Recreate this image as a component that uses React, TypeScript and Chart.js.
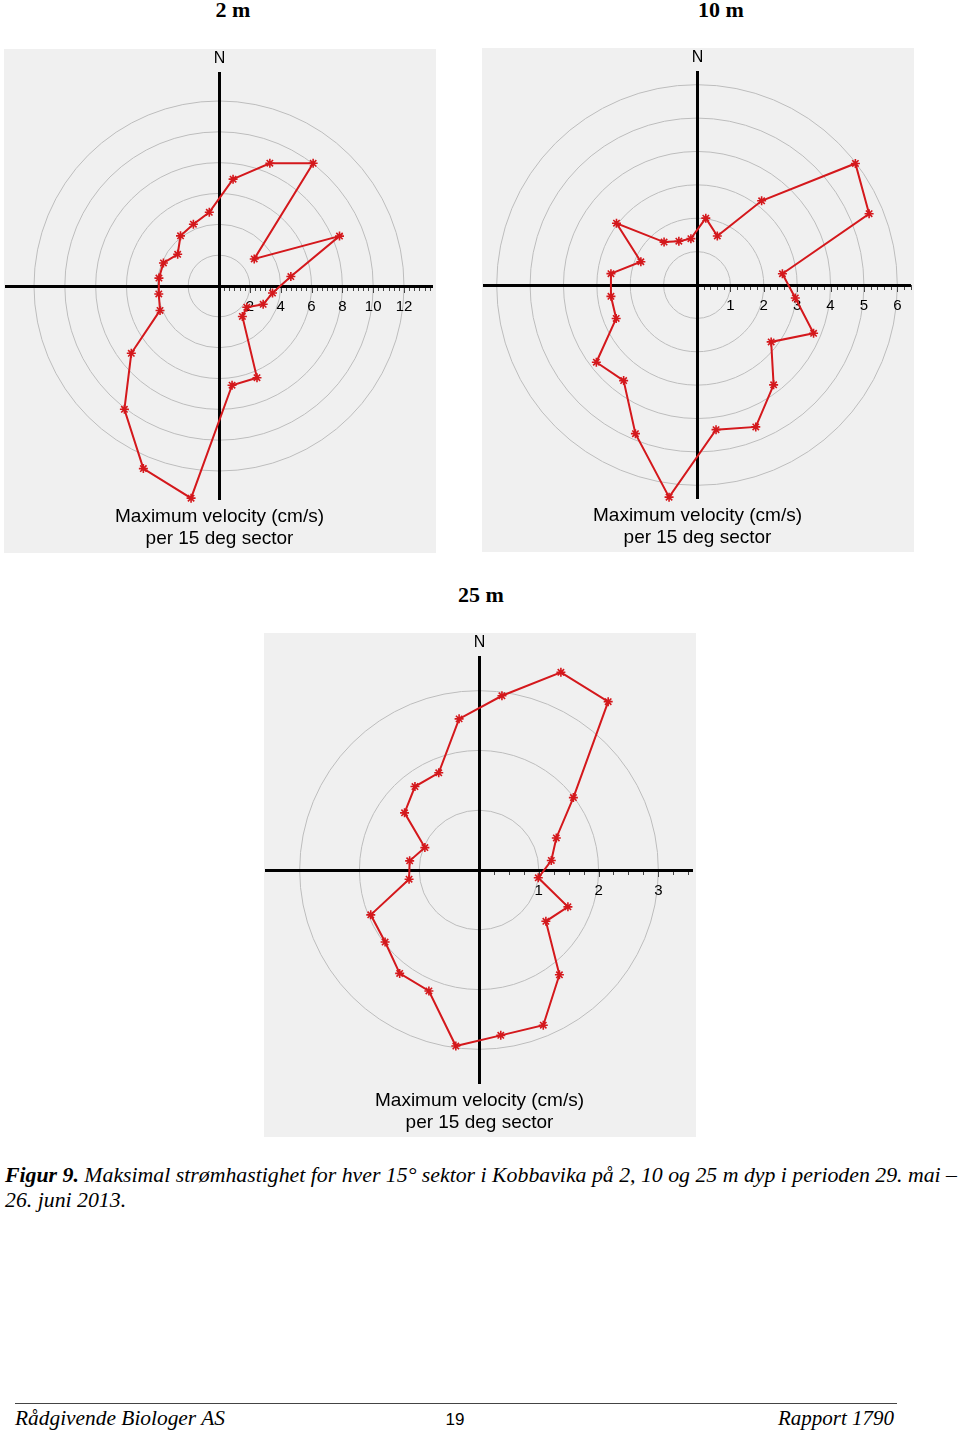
import React, { useEffect, useRef } from 'react';
import { Chart, registerables } from 'chart.js';

Chart.register(...registerables);

// 24 sectors of 15°, centred at 7.5°, 22.5°, ... clockwise from north
const sectorLabels = [
  '7.5', '22.5', '37.5', '52.5', '67.5', '82.5', '97.5', '112.5', '127.5', '142.5', '157.5', '172.5',
  '187.5', '202.5', '217.5', '232.5', '247.5', '262.5', '277.5', '292.5', '307.5', '322.5', '337.5', '352.5',
];

// Maximum velocity (cm/s) per sector
const values2m = [6.99, 8.62, 10.03, 2.88, 8.46, 4.7, 3.5, 3.1, 2.27, 2.49, 6.44, 6.49,
  13.88, 12.82, 10.08, 7.17, 4.14, 3.94, 3.93, 3.9, 3.38, 4.1, 4.34, 4.82];
const values10m = [2.02, 1.59, 3.18, 5.98, 5.58, 2.58, 2.97, 3.78, 2.8, 3.77, 4.6, 4.37,
  6.41, 4.82, 3.61, 3.8, 2.62, 2.6, 2.6, 1.82, 3.04, 1.62, 1.42, 1.4];
const values25m = [2.94, 3.58, 3.55, 1.99, 1.4, 1.22, 1.0, 1.61, 1.41, 2.21, 2.81, 2.79,
  2.97, 2.19, 2.18, 1.98, 1.96, 1.18, 1.17, 0.98, 1.57, 1.76, 1.76, 2.55];

// Axis tick labels
const ticks2m = [2, 4, 6, 8, 10, 12];
const ticks10m = [1, 2, 3, 4, 5, 6];
const ticks25m = [1, 2, 3];

const minorStep2m = 1 / 3;
const minorStep10m = 0.2;
const minorStep25m = 0.25;

const RED = '#d4181c';
const SANS = '"Liberation Sans", Arial, Helvetica, sans-serif';
const SERIF = '"Liberation Serif", "Times New Roman", Times, serif';

const crossPlugin = {
  id: 'cross',
  beforeDatasetsDraw(chart: any, _args: any, opts: any) {
    const s = chart.scales.r;
    const cx = s.xCenter;
    const cy = s.yCenter;
    const R = s.drawingArea;
    const ctx = chart.ctx;
    const labels: number[] = opts.labels;
    const minor: number = opts.minor;
    ctx.save();
    // tick marks along the east axis
    ctx.strokeStyle = '#444';
    ctx.lineWidth = 1;
    const n = Math.floor(s.max / minor + 1e-6);
    for (let i = 1; i <= n; i++) {
      const v = i * minor;
      const d = s.getDistanceFromCenterForValue(v);
      const major = labels.some((l) => Math.abs(l - v) < 1e-6);
      const x = Math.round(cx + d) + 0.5;
      ctx.beginPath();
      ctx.moveTo(x, cy);
      ctx.lineTo(x, cy + (major ? 7 : 5));
      ctx.stroke();
    }
    // crosshair axes
    ctx.strokeStyle = '#000';
    ctx.lineWidth = 3;
    ctx.beginPath();
    ctx.moveTo(cx - R, cy + 0.5);
    ctx.lineTo(cx + R, cy + 0.5);
    ctx.moveTo(cx + 0.5, cy - R);
    ctx.lineTo(cx + 0.5, cy + R);
    ctx.stroke();
    // labels
    ctx.fillStyle = '#000';
    ctx.textAlign = 'center';
    ctx.textBaseline = 'alphabetic';
    ctx.font = '15px ' + SANS;
    labels.forEach((l) => {
      ctx.fillText(String(l), cx + s.getDistanceFromCenterForValue(l), cy + 25);
    });
    ctx.font = '16px ' + SANS;
    ctx.fillText('N', cx + 0.5, cy - R - 9);
    ctx.font = '19px ' + SANS;
    ctx.fillText('Maximum velocity (cm/s)', cx + 0.5, cy + 236);
    ctx.fillText('per 15 deg sector', cx + 0.5, cy + 258);
    ctx.restore();
  },
};

type RoseProps = {
  values: number[];
  labels: number[];
  minor: number;
  ringStep: number;
  left: number;
  top: number;
};

const PANEL_W = 432;
const PANEL_H = 504;

function Rose({ values, labels, minor, ringStep, left, top }: RoseProps) {
  const ref = useRef<HTMLCanvasElement>(null);
  useEffect(() => {
    if (!ref.current) return;
    const ringMax = labels[labels.length - 1];
    const chart = new Chart(ref.current, {
      type: 'radar',
      data: {
        labels: sectorLabels,
        datasets: [
          {
            data: values,
            borderColor: RED,
            borderWidth: 2,
            fill: false,
            tension: 0,
            pointStyle: 'star',
            pointRadius: 4.5,
            pointBorderWidth: 1.6,
            pointBorderColor: RED,
            pointBackgroundColor: RED,
          },
        ],
      },
      options: {
        responsive: false,
        animation: false,
        events: [],
        layout: { padding: { left: 1, top: 23, right: PANEL_W - 1 - 428, bottom: PANEL_H - 23 - 428 } },
        scales: {
          r: {
            min: 0,
            max: Math.max(...values),
            startAngle: 7.5,
            angleLines: { display: false },
            pointLabels: { display: false },
            ticks: { display: false, stepSize: ringStep },
            grid: {
              circular: true,
              lineWidth: 1,
              color: (c: any) => {
                const v = c.tick ? c.tick.value : 0;
                const k = v / ringStep;
                if (v > ringMax + 1e-6 || Math.abs(k - Math.round(k)) > 1e-6) return 'rgba(0,0,0,0)';
                return '#bdbdbd';
              },
            },
          },
        },
        plugins: {
          legend: { display: false },
          tooltip: { enabled: false },
          cross: { labels, minor },
        } as any,
      },
      plugins: [crossPlugin],
    });
    return () => chart.destroy();
  }, []);
  return (
    <canvas
      ref={ref}
      width={PANEL_W}
      height={PANEL_H}
      style={{ position: 'absolute', left, top, width: PANEL_W, height: PANEL_H, background: '#f0f0f0' }}
    />
  );
}

function Title({ text, cx, baseline }: { text: string; cx: number; baseline: number }) {
  const fs = 22;
  return (
    <div
      style={{
        position: 'absolute',
        left: cx - 100,
        width: 200,
        top: baseline - 0.838 * fs,
        textAlign: 'center',
        font: `bold ${fs}px ${SERIF}`,
        lineHeight: `${fs}px`,
        whiteSpace: 'nowrap',
        color: '#000',
      }}
    >
      {text}
    </div>
  );
}

export default function App() {
  return (
    <div style={{ position: 'absolute', left: 0, top: 0, width: 960, height: 1434, background: '#fff', overflow: 'hidden' }}>
      <Title text="2 m" cx={233} baseline={17} />
      <Title text="10 m" cx={721} baseline={17} />
      <Title text="25 m" cx={481} baseline={602} />
      <Rose values={values2m} labels={ticks2m} minor={minorStep2m} ringStep={2} left={4} top={49} />
      <Rose values={values10m} labels={ticks10m} minor={minorStep10m} ringStep={1} left={482} top={48} />
      <Rose values={values25m} labels={ticks25m} minor={minorStep25m} ringStep={1} left={264} top={633} />
      <div
        style={{
          position: 'absolute',
          left: 5,
          top: 1163,
          width: 960,
          font: `italic 21.8px ${SERIF}`,
          lineHeight: '25px',
          whiteSpace: 'nowrap',
          color: '#000',
        }}
      >
        <div>
          <b>Figur 9.</b> Maksimal strømhastighet for hver 15° sektor i Kobbavika på 2, 10 og 25 m dyp i perioden 29. mai –
        </div>
        <div>26. juni 2013.</div>
      </div>
      <div style={{ position: 'absolute', left: 15, top: 1403, width: 882, height: 1, background: '#444' }} />
      <div
        style={{
          position: 'absolute',
          left: 15,
          top: 1406,
          font: `italic 21.4px ${SERIF}`,
          lineHeight: '25px',
          whiteSpace: 'nowrap',
        }}
      >
        Rådgivende Biologer AS
      </div>
      <div
        style={{
          position: 'absolute',
          left: 405,
          width: 100,
          textAlign: 'center',
          top: 1407,
          font: `17px ${SANS}`,
          lineHeight: '25px',
        }}
      >
        19
      </div>
      <div
        style={{
          position: 'absolute',
          right: 960 - 894,
          top: 1406,
          font: `italic 21px ${SERIF}`,
          lineHeight: '25px',
          whiteSpace: 'nowrap',
          textAlign: 'right',
        }}
      >
        Rapport 1790
      </div>
    </div>
  );
}
